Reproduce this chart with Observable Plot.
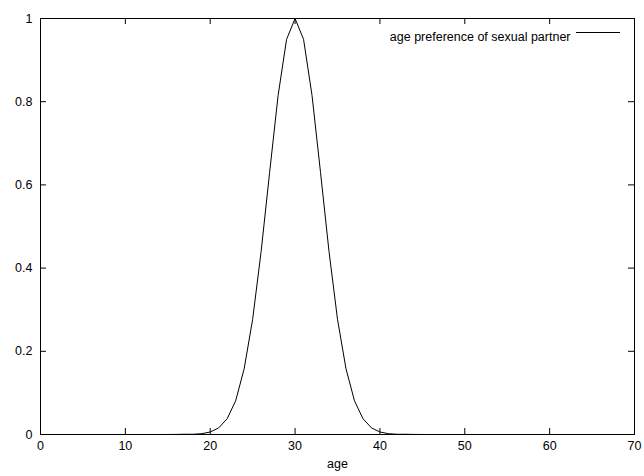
<!DOCTYPE html>
<html>
<head>
<meta charset="utf-8">
<script src="https://cdn.jsdelivr.net/npm/d3@7"></script>
<script src="https://cdn.jsdelivr.net/npm/@observablehq/plot@0.6"></script>
<style>
  html, body { margin: 0; padding: 0; background: #fff; }
</style>
</head>
<body>
<div id="chart"></div>
<script>
// Data
const ages = [
  0, 1, 2, 3, 4, 5, 6, 7, 8, 9,
  10, 11, 12, 13, 14, 15, 16, 17, 18, 19,
  20, 21, 22, 23, 24, 25, 26, 27, 28, 29,
  30, 31, 32, 33, 34, 35, 36, 37, 38, 39,
  40, 41, 42, 43, 44, 45, 46, 47, 48, 49,
  50, 51, 52, 53, 54, 55, 56, 57, 58, 59,
  60, 61, 62, 63, 64, 65, 66, 67, 68, 69, 70
];
const preference = [
  0, 0, 0, 0, 0, 0, 0, 0, 0, 0,
  0, 0, 0, 0, 0, 0.00005, 0.0002, 0.0006, 0.0006, 0.002,
  0.006, 0.016, 0.038, 0.081, 0.158, 0.277, 0.44, 0.63, 0.815, 0.95,
  1, 0.95, 0.815, 0.63, 0.44, 0.277, 0.158, 0.081, 0.038, 0.016,
  0.006, 0.002, 0.0006, 0.0006, 0.0002, 0.00005, 0, 0, 0, 0,
  0, 0, 0, 0, 0, 0, 0, 0, 0, 0,
  0, 0, 0, 0, 0, 0, 0, 0, 0, 0, 0
];
const xTicks = [0, 10, 20, 30, 40, 50, 60, 70];
const yTicks = [0, 0.2, 0.4, 0.6, 0.8, 1];
const seriesName = "age preference of sexual partner";
const xLabel = "age";

const data = ages.map((a, i) => ({age: a, value: preference[i]}));

const W = 644, H = 476;
const mL = 40, mR = 10, mT = 18, mB = 42;
const plotW = W - mL - mR, plotH = H - mT - mB;
const tk = 6;

const plot = Plot.plot({
  width: W,
  height: H,
  marginLeft: mL,
  marginRight: mR,
  marginTop: mT,
  marginBottom: mB,
  style: {fontFamily: "'Liberation Sans', Arial, sans-serif", fontSize: "12.5px", background: "#fff", color: "#000"},
  x: {domain: [0, 70], ticks: xTicks, tickFormat: d => String(d)},
  y: {domain: [0, 1], ticks: yTicks, tickFormat: d => String(d)},
  marks: [
    Plot.axisX({ticks: xTicks, tickSize: 0, tickPadding: 7, tickFormat: d => String(d), label: null}),
    Plot.axisY({ticks: yTicks, tickSize: 0, tickPadding: 8, tickFormat: d => String(d), label: null}),
    // inward ticks on all four sides
    Plot.ruleX(xTicks, {x: d => d, insetTop: plotH - tk, stroke: "#000"}),
    Plot.ruleX(xTicks, {x: d => d, insetBottom: plotH - tk, stroke: "#000"}),
    Plot.ruleY(yTicks, {y: d => d, insetRight: plotW - tk, stroke: "#000"}),
    Plot.ruleY(yTicks, {y: d => d, insetLeft: plotW - tk, stroke: "#000"}),
    Plot.line(data, {x: "age", y: "value", stroke: "#000", strokeWidth: 1}),
    Plot.frame({stroke: "#000"}),
    Plot.text([xLabel], {frameAnchor: "bottom", text: d => d, dy: 33, fill: "#000"}),
    Plot.text([seriesName], {frameAnchor: "top-right", text: d => d, dx: -64, dy: 14, textAnchor: "end", fill: "#000"})
  ]
});

// legend line sample
d3.select(plot).append("line")
  .attr("x1", W - mR - 58).attr("x2", W - mR - 14)
  .attr("y1", mT + 14.5).attr("y2", mT + 14.5)
  .attr("stroke", "#000").attr("stroke-width", 1);

document.getElementById("chart").append(plot);
</script>
</body>
</html>
